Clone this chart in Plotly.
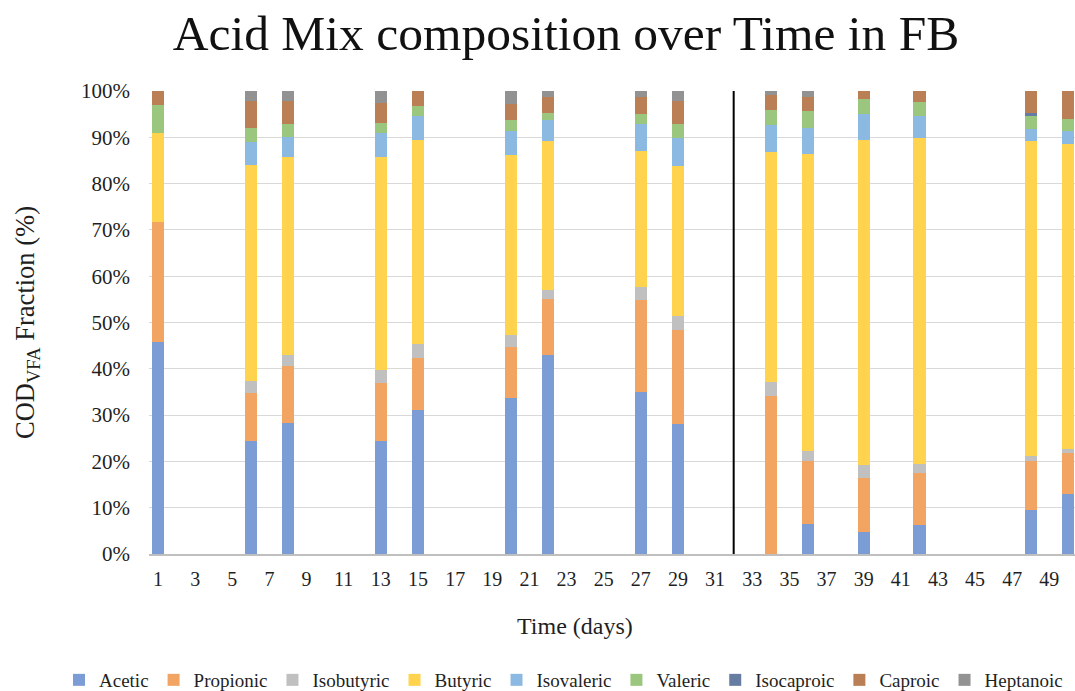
import plotly.graph_objects as go

days = [1, 6, 8, 13, 15, 20, 22, 27, 29, 34, 36, 39, 42, 48, 50]

acetic     = [45.7, 24.4, 28.4, 24.4, 31.2, 33.6, 43.0, 35.0, 28.1, 0.0, 6.5, 4.8, 6.3, 9.5, 12.9]
propionic  = [25.9, 10.3, 12.2, 12.5, 11.2, 11.1, 12.0, 19.8, 20.2, 34.2, 13.5, 11.7, 11.2, 10.5, 8.9]
isobutyric = [0.0, 2.6, 2.3, 2.8, 2.9, 2.6, 2.1, 2.8, 3.0, 2.9, 2.3, 2.7, 1.9, 1.2, 0.9]
butyric    = [19.4, 46.7, 42.9, 46.1, 44.1, 38.9, 32.0, 29.5, 32.5, 49.7, 64.2, 70.2, 70.5, 68.0, 65.8]
isovaleric = [0.0, 5.0, 4.3, 5.1, 5.2, 5.2, 4.6, 5.8, 6.0, 5.8, 5.6, 5.7, 4.7, 2.5, 2.9]
valeric    = [5.9, 3.1, 2.8, 2.1, 2.2, 2.3, 1.6, 2.1, 3.0, 3.4, 3.6, 3.2, 3.1, 2.9, 2.5]
isocaproic = [0.0, 0.0, 0.0, 0.0, 0.0, 0.0, 0.0, 0.0, 0.0, 0.0, 0.0, 0.0, 0.0, 0.7, 0.0]
caproic    = [3.1, 5.7, 4.9, 4.5, 3.2, 3.6, 3.3, 3.7, 5.0, 3.1, 3.0, 1.7, 2.3, 4.7, 6.1]
heptanoic  = [0.0, 2.2, 2.2, 2.5, 0.0, 2.7, 1.4, 1.3, 2.2, 0.9, 1.3, 0.0, 0.0, 0.0, 0.0]

series_names = ["Acetic", "Propionic", "Isobutyric", "Butyric", "Isovaleric",
                "Valeric", "Isocaproic", "Caproic", "Heptanoic"]
series_values = [acetic, propionic, isobutyric, butyric, isovaleric,
                 valeric, isocaproic, caproic, heptanoic]
colors = ["#7C9CD6", "#F2A462", "#C0C0C0", "#FFD34D", "#8CB9E2",
          "#9BC67E", "#677CA1", "#BB7F56", "#929292"]

y_ticks = list(range(0, 101, 10))
y_ticktext = [f"{v}%" for v in y_ticks]
x_ticks = list(range(1, 50, 2))
divider_day = 32

FONT = "Liberation Serif"
TXT = "#1f1f1f"

PL, PT, PB = 149, 91, 137
PW, PH = 1075 - PL, 691 - PT - PB

fig = go.Figure()
for name, vals, col in zip(series_names, series_values, colors):
    fig.add_trace(go.Bar(
        x=days, y=vals, name=name, width=0.66,
        marker=dict(color=col, line=dict(width=0)),
    ))

fig.add_shape(type="line", xref="x", yref="y",
              x0=divider_day, x1=divider_day, y0=-1.6, y1=100,
              line=dict(color="black", width=2))

fig.add_annotation(text="Time (days)", xref="paper", yref="paper",
                   x=(575 - PL) / PW, y=(PT + PH - 626) / PH,
                   xanchor="center", yanchor="middle",
                   showarrow=False, font=dict(family=FONT, size=24, color=TXT))

fig.update_layout(
    template="none",
    width=1075, height=691,
    barmode="stack", barnorm="percent",
    paper_bgcolor="white", plot_bgcolor="white",
    margin=dict(l=PL, r=0, t=PT, b=PB, pad=0, autoexpand=False),
    font=dict(family=FONT, color=TXT),
    title=dict(text="Acid Mix composition over Time in FB",
               x=566/1075, xanchor="center", xref="container",
               y=1-33/691, yanchor="middle", yref="container",
               font=dict(family=FONT, size=49.5, color="#111")),
    xaxis=dict(range=[0.515, 50.38], tickmode="array", tickvals=x_ticks,
               ticktext=[str(v) for v in x_ticks],
               showgrid=False, zeroline=False, automargin=False,
               showline=True, linecolor="#BFBFBF", linewidth=1.5,
               ticks="", ticklabelstandoff=6,
               tickfont=dict(family=FONT, size=20, color=TXT)),
    yaxis=dict(range=[0, 100], tickmode="array", tickvals=y_ticks,
               ticktext=y_ticktext, automargin=False,
               showgrid=True, gridcolor="#D9D9D9", gridwidth=1,
               zeroline=False, showline=False, ticks="",
               ticklabelstandoff=18,
               tickfont=dict(family=FONT, size=21, color=TXT),
               title=dict(text="COD<sub>VFA</sub> Fraction (%)", standoff=38,
                          font=dict(family=FONT, size=26.5, color=TXT))),
    legend=dict(orientation="h", xref="paper", yref="paper",
                x=(59 - PL) / PW, xanchor="left",
                y=(PT + PH - 680) / PH, yanchor="middle",
                font=dict(family=FONT, size=19, color=TXT),
                traceorder="normal", itemwidth=30,
                bgcolor="rgba(0,0,0,0)"),
    showlegend=True,
)

fig.write_html("out.html")
